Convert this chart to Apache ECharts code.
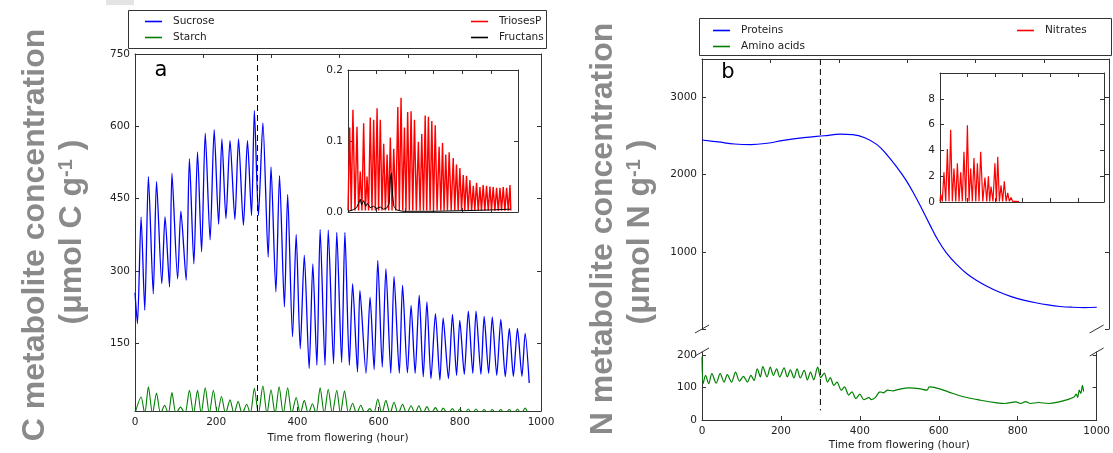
<!DOCTYPE html>
<html>
<head>
<meta charset="utf-8">
<script src="https://cdn.jsdelivr.net/npm/echarts@6/dist/echarts.min.js"></script>
<style>
  html, body { margin: 0; padding: 0; background: #fff; }
  #chart { width: 1113px; height: 453px; }
</style>
</head>
<body>
<div id="chart"></div>
<script>
// ---- Panel a: carbon metabolites, [hour, µmol C g-1] ----
const sucrose = [[0,255],[6,191],[15,412],[24,219],[33,496],[45,253],[53,486],[66,274],[74,413],[85,267],[91,503],[105,284],[113,424],[126,281],[134,533],[145,315],[154,547],[164,340],[173,586],[185,365],[195,593],[206,397],[214,574],[224,409],[234,571],[246,407],[255,574],[267,395],[277,571],[287,415],[294,633],[304,415],[315,607],[328,329],[335,516],[347,257],[356,498],[368,226],[376,459],[388,164],[397,376],[407,139],[417,333],[429,98],[438,315],[448,105],[456,386],[468,105],[476,385],[489,108],[497,380],[509,111],[517,380],[528,105],[536,274],[548,91],[554,260],[569,88],[579,246],[589,96],[598,322],[609,101],[618,305],[630,88],[638,289],[651,88],[659,271],[671,89],[680,229],[690,88],[700,250],[710,81],[719,236],[729,77],[740,212],[751,74],[759,203],[772,77],[782,210],[792,84],[800,198],[811,86],[821,217],[832,88],[840,217],[852,86],[860,206],[871,88],[880,205],[891,84],[901,200],[912,81],[922,181],[932,82],[942,181],[953,82],[961,171],[971,68]];

const starch = [[0,5],[15,39],[24,4],[33,60],[43,4],[53,47],[63,4],[73,22],[82,4],[91,48],[101,4],[112,18],[123,4],[134,53],[144,4],[154,53],[163,4],[173,58],[183,4],[193,53],[203,4],[213,40],[223,4],[234,33],[244,4],[254,30],[264,4],[275,24],[284,4],[294,57],[304,4],[315,62],[325,4],[335,54],[345,4],[355,60],[365,4],[376,58],[386,4],[397,38],[407,4],[417,32],[427,4],[437,25],[446,4],[456,58],[466,4],[476,55],[486,4],[497,53],[506,4],[516,52],[526,4],[536,26],[546,4],[556,22],[567,4],[578,15],[588,4],[598,35],[608,4],[618,32],[628,4],[638,28],[648,4],[659,24],[669,4],[680,21],[690,4],[699,21],[709,4],[719,19],[729,4],[740,17],[750,4],[759,16],[770,4],[782,15],[791,4],[800,14],[810,4],[821,14],[830,4],[840,14],[850,4],[860,13],[870,4],[880,13],[890,4],[901,13],[911,4],[922,13],[932,4],[942,14],[951,4],[961,16],[968,4]];

const triosesP = [[0,0.002],[10,0.119],[19,0.002],[29,0.144],[41,0.002],[53,0.12],[62,0.002],[72,0.057],[82,0.002],[92,0.125],[102,0.002],[112,0.05],[121,0.002],[131,0.133],[141,0.002],[151,0.13],[161,0.002],[171,0.146],[180,0.002],[190,0.13],[200,0.002],[210,0.096],[220,0.002],[230,0.081],[239,0.002],[249,0.105],[259,0.002],[269,0.089],[281,0.002],[293,0.148],[302,0.002],[312,0.161],[322,0.002],[332,0.119],[341,0.002],[351,0.141],[361,0.002],[371,0.142],[381,0.002],[391,0.13],[402,0.002],[414,0.099],[424,0.002],[434,0.11],[444,0.002],[454,0.136],[463,0.002],[473,0.134],[483,0.002],[493,0.128],[503,0.002],[513,0.122],[524,0.002],[536,0.092],[546,0.002],[556,0.097],[565,0.002],[575,0.081],[585,0.002],[595,0.084],[607,0.002],[619,0.076],[628,0.002],[638,0.067],[648,0.002],[658,0.062],[668,0.002],[678,0.052],[687,0.002],[697,0.051],[707,0.002],[717,0.045],[727,0.002],[737,0.037],[746,0.002],[756,0.041],[766,0.002],[776,0.035],[785,0.002],[795,0.038],[805,0.002],[815,0.037],[825,0.002],[835,0.036],[844,0.002],[854,0.035],[864,0.002],[874,0.034],[884,0.002],[894,0.034],[903,0.002],[913,0.035],[923,0.002],[933,0.034],[943,0.002],[953,0.038],[958,0.002]];

const fructans = [[0,0.001],[30,0.003],[50,0.006],[62,0.012],[72,0.018],[80,0.01],[92,0.016],[104,0.008],[115,0.012],[130,0.006],[150,0.008],[170,0.005],[190,0.007],[210,0.004],[230,0.006],[242,0.012],[250,0.05],[256,0.055],[262,0.025],[270,0.008],[285,0.003],[320,0.001],[500,0.001],[700,0.002],[850,0.003],[958,0.004]];

// ---- Panel b: nitrogen metabolites, [hour, µmol N g-1] ----
const proteins = [[0,2450],[40,2425],[80,2398],[120,2390],[160,2408],[200,2445],[250,2480],[300,2505],[340,2525],[370,2520],[400,2480],[430,2390],[455,2255],[480,2090],[500,1940],[520,1760],[540,1560],[560,1350],[580,1150],[600,990],[625,840],[650,720],[675,630],[700,555],[730,480],[760,420],[790,375],[820,340],[850,312],[880,292],[910,282],[940,278],[970,282]];

const aminoAcids = [[0,195],[3,112],[9,138],[17,112],[25,143],[36,114],[46,143],[56,117],[64,140],[75,117],[85,148],[95,120],[105,135],[115,117],[124,138],[132,122],[140,158],[148,133],[154,165],[165,133],[173,163],[181,138],[189,158],[197,133],[208,161],[216,133],[224,155],[233,130],[241,158],[249,130],[259,153],[267,124],[275,148],[283,124],[293,163],[301,131],[310,145],[318,117],[325,131],[334,107],[342,117],[353,92],[361,102],[372,77],[380,87],[390,66],[400,80],[410,63],[423,69],[429,63],[439,69],[451,87],[460,84],[470,92],[484,90],[496,94],[525,99],[550,97],[570,92],[576,102],[591,100],[624,87],[665,71],[706,61],[747,53],[768,51],[795,56],[808,51],[820,57],[832,51],[853,54],[877,51],[902,55],[926,63],[943,71],[948,80],[952,70],[956,92],[960,82],[964,107],[967,88]];

const nitrates = [[0,0.05],[4,0.6],[14,0.05],[24,2.3],[35,0.05],[45,4.1],[55,0.05],[65,5.6],[75,0.05],[85,2.6],[96,0.05],[106,3.0],[116,0.05],[126,2.3],[136,0.05],[146,3.9],[157,0.05],[167,5.95],[177,0.05],[187,2.6],[197,0.05],[207,3.4],[218,0.05],[228,3.0],[238,0.05],[248,3.9],[261,0.05],[274,1.9],[285,0.05],[295,2.0],[303,0.05],[311,1.2],[323,0.05],[335,3.0],[344,0.05],[352,3.5],[362,0.05],[372,1.3],[382,0.05],[392,1.6],[403,0.05],[413,0.7],[423,0.05],[433,0.35],[443,0.05],[453,0.2],[463,0.05],[472,0.1],[482,0.03]];

// ---- tick values and markers ----
const hourTicks = 200;            // labelled time ticks
const weekTicks = 168;            // mirrored ticks on top spines and insets
const floweringRef = 300;         // dashed reference time (hour)
const carbonTicks = [150, 300, 450, 600, 750];
const aminoTicks = [0, 100, 200];

const FONT = 'DejaVu Sans';
const FS = 10.5;
const AX = '#333';
const TXT = '#222';

const chart = echarts.init(document.getElementById('chart'), null, { renderer: 'canvas' });

function xAx(grid, pos, interval, showLabel, name) {
  return {
    type: 'value', gridIndex: grid, position: pos, min: 0, max: 1000, interval: interval,
    axisLine: { show: true, onZero: false, lineStyle: { color: AX, width: 1 } },
    axisTick: { show: true, inside: true, length: 4, lineStyle: { color: AX } },
    axisLabel: { show: showLabel, color: TXT, fontFamily: FONT, fontSize: FS, margin: 6,
                 formatter: v => String(v) },
    splitLine: { show: false },
    name: name || '', nameLocation: 'middle', nameGap: 20,
    nameTextStyle: { color: TXT, fontFamily: FONT, fontSize: FS }
  };
}

function yAx(grid, pos, cfg, showLabel) {
  const a = {
    type: 'value', gridIndex: grid, position: pos, min: cfg.min, max: cfg.max,
    axisLine: { show: true, onZero: false, lineStyle: { color: AX, width: 1 } },
    axisTick: { show: true, inside: true, length: 4, lineStyle: { color: AX } },
    axisLabel: { show: showLabel, color: TXT, fontFamily: FONT, fontSize: FS, margin: 5,
                 showMaxLabel: cfg.showMax !== false, formatter: cfg.formatter || (v => String(v)) },
    splitLine: { show: false }
  };
  if (cfg.interval) a.interval = cfg.interval;
  if (cfg.custom) { a.axisTick.customValues = cfg.custom; a.axisLabel.customValues = cfg.custom; }
  return a;
}

const cfgC = { min: 10, max: 750, custom: carbonTicks };
const cfgInA = { min: 0, max: 0.2, interval: 0.1, formatter: v => v.toFixed(1) };
const cfgP = { min: 0, max: 3500, interval: 1000, showMax: false, formatter: v => (v === 0 ? '' : String(v)) };
const cfgAA = { min: 0, max: 210, custom: aminoTicks };
const cfgInB = { min: 0, max: 10, interval: 2, showMax: false };

const legendText = { color: TXT, fontFamily: FONT, fontSize: FS, padding: [0, 0, 0, 6] };
function legend(names, left, top) {
  return { data: names, left: left, top: top, orient: 'vertical', icon: 'rect',
           itemWidth: 17, itemHeight: 1.6, itemGap: 5, textStyle: legendText, selectedMode: false };
}

const lineBase = { type: 'line', showSymbol: false, symbol: 'none', animation: false };

const option = {
  animation: false,
  backgroundColor: '#fff',
  grid: [
    { left: 135, top: 54, width: 406, height: 357 },
    { left: 348, top: 70, width: 170, height: 142, show: true, backgroundColor: '#fff', borderWidth: 0 },
    { left: 702, top: 59, width: 407, height: 270 },
    { left: 702, top: 352, width: 407, height: 68 },
    { left: 940, top: 73, width: 164, height: 129, show: true, backgroundColor: '#fff', borderWidth: 0 }
  ],
  xAxis: [
    xAx(0, 'bottom', hourTicks, true, 'Time from flowering (hour)'),
    xAx(0, 'top', weekTicks, false),
    xAx(1, 'bottom', weekTicks, false),
    xAx(1, 'top', weekTicks, false),
    xAx(2, 'top', weekTicks, false),
    xAx(3, 'bottom', hourTicks, true, 'Time from flowering (hour)'),
    xAx(4, 'bottom', weekTicks, false),
    xAx(4, 'top', weekTicks, false)
  ],
  yAxis: [
    yAx(0, 'left', cfgC, true),
    yAx(0, 'right', cfgC, false),
    yAx(1, 'left', cfgInA, true),
    yAx(1, 'right', cfgInA, false),
    yAx(2, 'left', cfgP, true),
    yAx(2, 'right', cfgP, false),
    yAx(3, 'left', cfgAA, true),
    yAx(3, 'right', cfgAA, false),
    yAx(4, 'left', cfgInB, true),
    yAx(4, 'right', cfgInB, false)
  ],
  legend: [
    legend(['Sucrose', 'Starch'], 140, 11),
    legend(['TriosesP', 'Fructans'], 466, 11),
    legend(['Proteins', 'Amino acids'], 708, 20),
    legend(['Nitrates'], 1012, 20)
  ],
  series: [
    Object.assign({}, lineBase, {
      name: 'Sucrose', xAxisIndex: 0, yAxisIndex: 0, data: sucrose, smooth: 0.25,
      color: '#0000ff', lineStyle: { color: '#0000ff', width: 1.3 },
      markLine: { symbol: 'none', silent: true, label: { show: false },
                  lineStyle: { color: '#000', width: 1, type: [6, 4] },
                  data: [{ xAxis: floweringRef }] }
    }),
    Object.assign({}, lineBase, {
      name: 'Starch', xAxisIndex: 0, yAxisIndex: 0, data: starch, smooth: 0.25,
      color: '#008000', lineStyle: { color: '#008000', width: 1.1 }
    }),
    Object.assign({}, lineBase, {
      name: 'TriosesP', xAxisIndex: 2, yAxisIndex: 2, data: triosesP,
      color: '#ff0000', lineStyle: { color: '#ff0000', width: 1.4 }
    }),
    Object.assign({}, lineBase, {
      name: 'Fructans', xAxisIndex: 2, yAxisIndex: 2, data: fructans,
      color: '#000000', lineStyle: { color: '#000000', width: 1 }
    }),
    Object.assign({}, lineBase, {
      name: 'Proteins', xAxisIndex: 4, yAxisIndex: 4, data: proteins, smooth: 0.4,
      color: '#0000ff', lineStyle: { color: '#0000ff', width: 1.2 }
    }),
    Object.assign({}, lineBase, {
      name: 'Amino acids', xAxisIndex: 5, yAxisIndex: 6, data: aminoAcids, smooth: 0.3,
      color: '#008000', lineStyle: { color: '#008000', width: 1.2 }
    }),
    Object.assign({}, lineBase, {
      name: 'Nitrates', xAxisIndex: 6, yAxisIndex: 8, data: nitrates,
      color: '#ff0000', lineStyle: { color: '#ff0000', width: 1.2 }
    })
  ]
};

chart.setOption(option);

// ---- decorations placed through the axes' own scales ----
const px = (xi, v) => chart.convertToPixel({ xAxisIndex: xi }, v);
const py = (yi, v) => chart.convertToPixel({ yAxisIndex: yi }, v);

const bx0 = px(5, 0), bx1 = px(5, 1000);
const upperBottom = py(4, 0), upperTop = py(4, 3500);
const lowerTop = py(6, 210);
const refX = px(5, floweringRef);

function breakMark(x, y) {
  return { type: 'line', silent: true, z: 10,
           shape: { x1: x - 7, y1: y + 4, x2: x + 7, y2: y - 4 },
           style: { stroke: AX, lineWidth: 1 } };
}

const bigLabel = { fill: '#8a8a8a', fontFamily: 'Liberation Sans', fontWeight: 'bold', fontSize: 32,
                   align: 'center', verticalAlign: 'middle' };
const supRich = { sup: { fontFamily: 'Liberation Sans', fontWeight: 'bold', fontSize: 20,
                         fill: '#8a8a8a', verticalAlign: 'top', padding: [0, 0, 12, 0] } };

function rotText(x, y, text) {
  return { type: 'text', x: x, y: y, rotation: Math.PI / 2, silent: true,
           style: Object.assign({ text: text, rich: supRich }, bigLabel) };
}

chart.setOption({
  graphic: [
    { type: 'rect', silent: true, shape: { x: 106, y: 0, width: 28, height: 5 }, style: { fill: '#e4e4e4' } },
    { type: 'rect', silent: true, shape: { x: 128.5, y: 10.5, width: 418, height: 38 },
      style: { fill: 'none', stroke: AX, lineWidth: 1 } },
    { type: 'rect', silent: true, shape: { x: 699.5, y: 18.5, width: 412, height: 37 },
      style: { fill: 'none', stroke: AX, lineWidth: 1 } },
    rotText(35, 235, 'C metabolite concentration'),
    rotText(72, 232, '(\u03bcmol C g{sup|-1} )'),
    rotText(603, 229, 'N metabolite concentration'),
    rotText(640, 232, '(\u03bcmol N g{sup|-1} )'),
    { type: 'text', x: 161, y: 71, silent: true,
      style: { text: 'a', fontFamily: FONT, fontSize: 21, fill: '#000', align: 'center', verticalAlign: 'middle' } },
    { type: 'text', x: 728, y: 73, silent: true,
      style: { text: 'b', fontFamily: FONT, fontSize: 21, fill: '#000', align: 'center', verticalAlign: 'middle' } },
    { type: 'line', silent: true, z: 5,
      shape: { x1: refX, y1: upperTop, x2: refX, y2: py(6, 30) },
      style: { stroke: '#000', lineWidth: 1, lineDash: [6, 4] } },
    breakMark(bx0, upperBottom), breakMark(bx1, upperBottom),
    breakMark(bx0, lowerTop), breakMark(bx1, lowerTop)
  ]
});
</script>
</body>
</html>
